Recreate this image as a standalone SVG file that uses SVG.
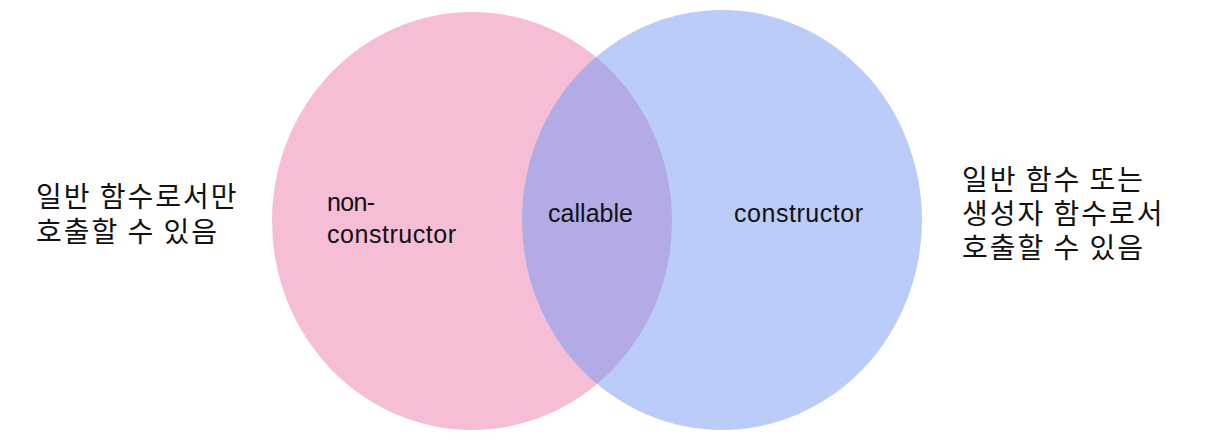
<svg xmlns="http://www.w3.org/2000/svg" width="1222" height="446" viewBox="0 0 1222 446">
<style>
.lbl{font-family:"Liberation Sans","Noto Sans",sans-serif;font-size:25px;fill:#111}
.ko{font-family:"Noto Sans CJK KR","Noto Sans",sans-serif;font-size:28px;letter-spacing:2px;fill:#111}
</style>
<defs>
<clipPath id="clipBlue"><ellipse cx="722" cy="220" rx="200" ry="210"/></clipPath>
</defs>
<rect width="1222" height="446" fill="#fff"/>
<g id="nonconstructor">
<ellipse cx="472" cy="221" rx="200" ry="209" fill="#F5BDD6"/>
</g>
<g id="constructor">
<ellipse cx="722" cy="220" rx="200" ry="210" fill="#BBCCF9"/>
</g>
<g id="callable">
<ellipse cx="472" cy="221" rx="200" ry="209" fill="#B2ABE6" clip-path="url(#clipBlue)"/>
</g>
<g id="labels">
<text class="lbl" x="327" y="211" textLength="48">non-</text>
<text class="lbl" x="327" y="243" textLength="129">constructor</text>
<text class="lbl" x="548" y="222" textLength="85">callable</text>
<text class="lbl" x="734" y="222" textLength="129">constructor</text>
</g>
<g id="note-left">
<text class="ko" x="36" y="207">일반 함수로서만</text>
<text class="ko" x="36" y="242">호출할 수 있음</text>
</g>
<g id="note-right">
<text class="ko" x="962" y="190">일반 함수 또는</text>
<text class="ko" x="962" y="224">생성자 함수로서</text>
<text class="ko" x="962" y="258">호출할 수 있음</text>
</g>
<g id="connectors"></g>
</svg>
